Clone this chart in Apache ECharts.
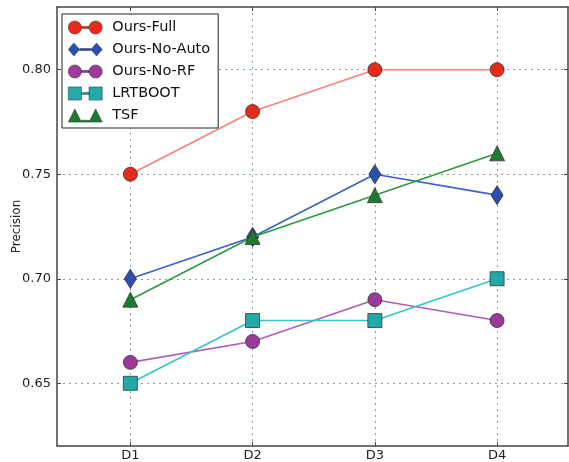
<!DOCTYPE html>
<html>
<head>
<meta charset="utf-8">
<script src="https://cdn.jsdelivr.net/npm/echarts@6/dist/echarts.min.js"></script>
<style>html,body{margin:0;padding:0;background:#fff}#c{width:569px;height:462px}</style>
</head>
<body>
<div id="c"></div>
<script>
const categories = ['D1', 'D2', 'D3', 'D4'];
const seriesNames = ['Ours-Full', 'Ours-No-Auto', 'Ours-No-RF', 'LRTBOOT', 'TSF'];
const oursFull = [0.75, 0.78, 0.80, 0.80];
const oursNoAuto = [0.70, 0.72, 0.75, 0.74];
const oursNoRF = [0.66, 0.67, 0.69, 0.68];
const lrtboot = [0.65, 0.68, 0.68, 0.70];
const tsf = [0.69, 0.72, 0.74, 0.76];
const yTicks = [0.65, 0.70, 0.75, 0.80];

const values = [oursFull, oursNoAuto, oursNoRF, lrtboot, tsf];
const lineColors = ['#f4837a', '#3b5fc8', '#b25ab8', '#35c4cc', '#2e9a3e'];
const markerColors = ['#e8291c', '#2b4fb0', '#9c3a9c', '#22aaaa', '#1e7a30'];
const symbols = ['circle', 'diamond', 'circle', 'rect', 'triangle'];
const symbolSizes = [14, [12, 19], 14, 14, 15];
const icons = [
  'path://M0,7 A7,7 0 1,1 14,7 A7,7 0 1,1 0,7 Z M14,6 L22,6 L22,8 L14,8 Z M22,7 A7,7 0 1,1 36,7 A7,7 0 1,1 22,7 Z',
  'path://M0,7 L6,0 L12,7 L6,14 Z M12,6 L24,6 L24,8 L12,8 Z M24,7 L30,0 L36,7 L30,14 Z',
  'path://M0,7 A7,7 0 1,1 14,7 A7,7 0 1,1 0,7 Z M14,6 L22,6 L22,8 L14,8 Z M22,7 A7,7 0 1,1 36,7 A7,7 0 1,1 22,7 Z',
  'path://M0,0 L14,0 L14,14 L0,14 Z M14,6 L22,6 L22,8 L14,8 Z M22,0 L36,0 L36,14 L22,14 Z',
  'path://M0,14 L7,0 L14,14 Z M14,12 L22,12 L22,14 L14,14 Z M22,14 L29,0 L36,14 Z'
];

const font = 'DejaVu Sans';
const chart = echarts.init(document.getElementById('c'), null, {renderer: 'canvas'});

const xTickVals = categories.map((c, i) => i + 1);

const commonX = {
  type: 'value', min: 0.4, max: 4.58,
  axisLine: {show: true, onZero: false, lineStyle: {color: '#444', width: 1.5}},
  axisTick: {show: true, inside: true, length: 4, customValues: xTickVals, lineStyle: {color: '#444'}},
};
const commonY = {
  type: 'value', min: 0.62, max: 0.83,
  axisLine: {show: true, onZero: false, lineStyle: {color: '#444', width: 1.5}},
  axisTick: {show: true, inside: true, length: 4, customValues: yTicks, lineStyle: {color: '#444'}},
};

chart.setOption({
  animation: false,
  backgroundColor: '#fff',
  grid: {left: 57, right: 1, top: 7, bottom: 16, containLabel: false, outerBoundsMode: 'none'},
  xAxis: [
    Object.assign({}, commonX, {
      position: 'bottom',
      axisLabel: {customValues: xTickVals, formatter: v => categories[Math.round(v) - 1], color: '#222', fontFamily: font, fontSize: 13, margin: 3},
      splitLine: {show: true, lineStyle: {type: [2, 4], color: '#7f9fb8', width: 1}}
    }),
    Object.assign({}, commonX, {
      position: 'top', axisLabel: {show: false}, splitLine: {show: false}
    })
  ],
  yAxis: [
    Object.assign({}, commonY, {
      position: 'left',
      name: 'Precision', nameLocation: 'middle', nameGap: 34, nameRotate: 90, nameMoveOverlap: false,
      nameTextStyle: {color: '#222', fontFamily: font, fontSize: 12},
      axisLabel: {customValues: yTicks, formatter: v => v.toFixed(2), color: '#222', fontFamily: font, fontSize: 13, margin: 6},
      splitLine: {show: true, lineStyle: {type: [2, 4], color: '#7f9fb8', width: 1}}
    }),
    Object.assign({}, commonY, {
      position: 'right', axisLabel: {show: false}, splitLine: {show: false}
    })
  ],
  legend: {
    orient: 'vertical', left: 62, top: 14,
    itemWidth: 34, itemHeight: 14, itemGap: 7,
    padding: [6, 8, 5, 6],
    borderColor: '#222', borderWidth: 1, backgroundColor: '#fff',
    textStyle: {fontFamily: font, fontSize: 14.5, color: '#111', padding: [0, 0, 0, 5]},
    data: seriesNames.map((n, i) => ({name: n, icon: icons[i], itemStyle: {color: markerColors[i], borderColor: '#333', borderWidth: 0.5}}))
  },
  series: seriesNames.map((n, i) => ({
    name: n, type: 'line',
    data: values[i].map((v, j) => [j + 1, v]),
    symbol: symbols[i], symbolSize: symbolSizes[i],
    lineStyle: {color: lineColors[i], width: 1.6},
    itemStyle: {color: markerColors[i], borderColor: '#333', borderWidth: 0.8},
    z: 2 + i
  }))
});
</script>
</body>
</html>
